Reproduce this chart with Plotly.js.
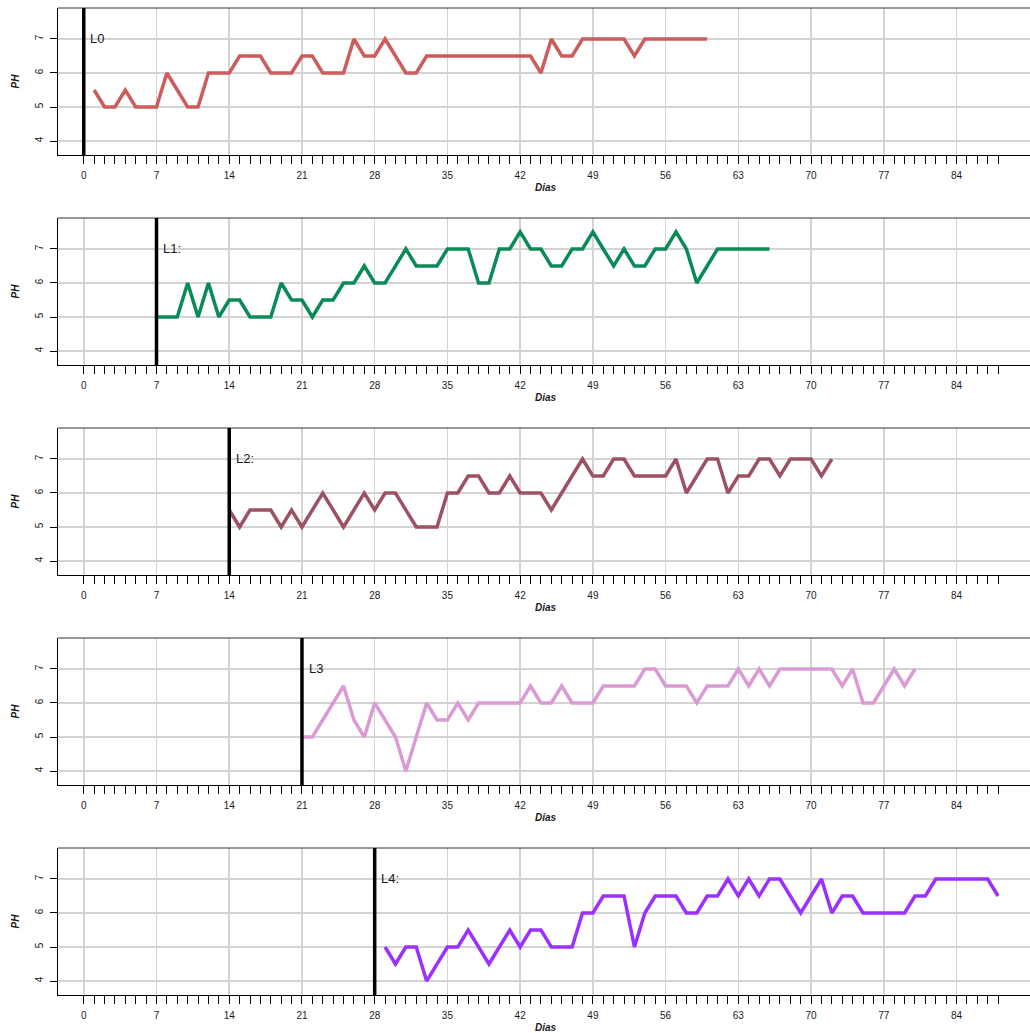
<!DOCTYPE html>
<html>
<head>
<meta charset="utf-8">
<script src="https://cdn.plot.ly/plotly-3.0.1.min.js"></script>
<style>
html,body{margin:0;padding:0;background:#fff;}
#chart{width:1030px;height:1033px;}
</style>
</head>
<body>
<div id="chart"></div>
<script>
// ---- data ----
var seriesNames = ["L0", "L1", "L2", "L3", "L4"];
var labelTexts = ["L0", "L1:", "L2:", "L3", "L4:"];
var startDays = [1, 7, 14, 21, 29];
var markerDays = [0, 7, 14, 21, 28];
var colors = ["#CD5C5C", "#0A8A57", "#9C5262", "#DA9AD4", "#9B30FF"];

var phL0 = [5.5,5,5,5.5,5,5,5,6,5.5,5,
            5,6,6,6,6.5,6.5,6.5,6,6,6,
            6.5,6.5,6,6,6,7,6.5,6.5,7,6.5,
            6,6,6.5,6.5,6.5,6.5,6.5,6.5,6.5,6.5,
            6.5,6.5,6.5,6,7,6.5,6.5,7,7,7,
            7,7,6.5,7,7,7,7,7,7,7];
var phL1 = [5,5,5,6,5,6,5,5.5,5.5,5,
            5,5,6,5.5,5.5,5,5.5,5.5,6,6,
            6.5,6,6,6.5,7,6.5,6.5,6.5,7,7,
            7,6,6,7,7,7.5,7,7,6.5,6.5,
            7,7,7.5,7,6.5,7,6.5,6.5,7,7,
            7.5,7,6,6.5,7,7,7,7,7,7];
var phL2 = [5.5,5,5.5,5.5,5.5,5,5.5,5,5.5,6,
            5.5,5,5.5,6,5.5,6,6,5.5,5,5,
            5,6,6,6.5,6.5,6,6,6.5,6,6,
            6,5.5,6,6.5,7,6.5,6.5,7,7,6.5,
            6.5,6.5,6.5,7,6,6.5,7,7,6,6.5,
            6.5,7,7,6.5,7,7,7,6.5,7];
var phL3 = [5,5,5.5,6,6.5,5.5,5,6,5.5,5,
            4,5,6,5.5,5.5,6,5.5,6,6,6,
            6,6,6.5,6,6,6.5,6,6,6,6.5,
            6.5,6.5,6.5,7,7,6.5,6.5,6.5,6,6.5,
            6.5,6.5,7,6.5,7,6.5,7,7,7,7,
            7,7,6.5,7,6,6,6.5,7,6.5,7];
var phL4 = [5,4.5,5,5,4,4.5,5,5,5.5,5,
            4.5,5,5.5,5,5.5,5.5,5,5,5,6,
            6,6.5,6.5,6.5,5,6,6.5,6.5,6.5,6,
            6,6.5,6.5,7,6.5,7,6.5,7,7,6.5,
            6,6.5,7,6,6.5,6.5,6,6,6,6,
            6,6.5,6.5,7,7,7,7,7,7,6.5];
var allPH = [phL0, phL1, phL2, phL3, phL4];

var majorTicks = [0,7,14,21,28,35,42,49,56,63,70,77,84];
var minorTicks = [];
for (var d = 0; d <= 88; d++) minorTicks.push(d);
var yTicks = [4,5,6,7];
var xTitle = "Dias";
var yTitle = "PH";

// ---- layout geometry ----
var W = 1030, H = 1033;
var xLeftPx = 58;
var pxPerDay = 10.39;
var xMin = -2.48;
var xMax = xMin + (W - xLeftPx) / pxPerDay;
var yRange = [3.59, 7.91];

var traces = [];
var layout = {
  width: W, height: H,
  margin: {l: 0, r: 0, t: 0, b: 0},
  paper_bgcolor: "#ffffff",
  plot_bgcolor: "#ffffff",
  showlegend: false,
  font: {family: "Liberation Sans, Arial, sans-serif", size: 10, color: "#1a1a1a"},
  shapes: [],
  annotations: []
};

for (var i = 0; i < 5; i++) {
  var topPx = 8 + 210 * i, botPx = 155 + 210 * i;
  var y0 = 1 - botPx / H, y1 = 1 - topPx / H;
  var sfx = i === 0 ? "" : String(i + 1);
  var xs = [];
  for (var k = 0; k < allPH[i].length; k++) xs.push(startDays[i] + k);
  traces.push({
    x: xs, y: allPH[i], type: "scatter", mode: "lines",
    name: seriesNames[i],
    line: {color: colors[i], width: 3.5},
    xaxis: "x" + sfx, yaxis: "y" + sfx, hoverinfo: "x+y"
  });
  layout["xaxis" + sfx] = {
    domain: [xLeftPx / W, 1],
    anchor: "y" + sfx,
    range: [xMin, xMax],
    tickmode: "array", tickvals: majorTicks,
    ticks: "outside", ticklen: 8, tickwidth: 1, tickcolor: "#000",
    minor: {tickmode: "array", tickvals: minorTicks, ticks: "outside", ticklen: 8, tickwidth: 1, tickcolor: "#000", showgrid: false},
    ticklabelstandoff: 3,
    showgrid: true, gridcolor: "#d3d3d3", gridwidth: 1.5,
    zeroline: false,
    showline: true, linecolor: "#000", linewidth: 1,
    tickfont: {size: 10, color: "#1a1a1a"},
    fixedrange: true
  };
  layout["yaxis" + sfx] = {
    domain: [y0, y1],
    anchor: "x" + sfx,
    range: yRange,
    tickmode: "array", tickvals: yTicks,
    tickangle: -90,
    ticks: "outside", ticklen: 7, tickwidth: 1, tickcolor: "#000",
    ticklabelstandoff: 3,
    showgrid: true, gridcolor: "#d3d3d3", gridwidth: 1.5,
    zeroline: false,
    showline: true, linecolor: "#000", linewidth: 1,
    tickfont: {size: 10, color: "#1a1a1a"},
    fixedrange: true
  };
  // top border
  layout.shapes.push({
    type: "line", xref: "paper", yref: "paper",
    x0: xLeftPx / W, x1: 1, y0: y1, y1: y1,
    line: {color: "#333", width: 1}
  });
  // vertical marker
  layout.shapes.push({
    type: "line", xref: "x" + sfx, yref: "y" + sfx + " domain",
    x0: markerDays[i], x1: markerDays[i], y0: 0, y1: 1,
    line: {color: "#000", width: 3.5}
  });
  layout.annotations.push({
    xref: "x" + sfx, yref: "y" + sfx,
    x: markerDays[i] + 0.45, y: 7, text: labelTexts[i],
    showarrow: false, xanchor: "left", yanchor: "middle",
    font: {size: 13, color: "#1a1a1a"}
  });
  layout.annotations.push({
    xref: "paper", yref: "paper",
    x: 546 / W, y: 1 - (botPx + 32) / H, text: "<b><i>" + xTitle + "</i></b>",
    showarrow: false, xanchor: "center", yanchor: "middle",
    font: {size: 10, color: "#1a1a1a"}
  });
  layout.annotations.push({
    xref: "paper", yref: "paper",
    x: 15 / W, y: (y0 + y1) / 2, text: "<b><i>" + yTitle + "</i></b>",
    showarrow: false, xanchor: "center", yanchor: "middle", textangle: -90,
    font: {size: 10, color: "#1a1a1a"}
  });
}

Plotly.newPlot("chart", traces, layout, {displayModeBar: false, staticPlot: true});
</script>
</body>
</html>
